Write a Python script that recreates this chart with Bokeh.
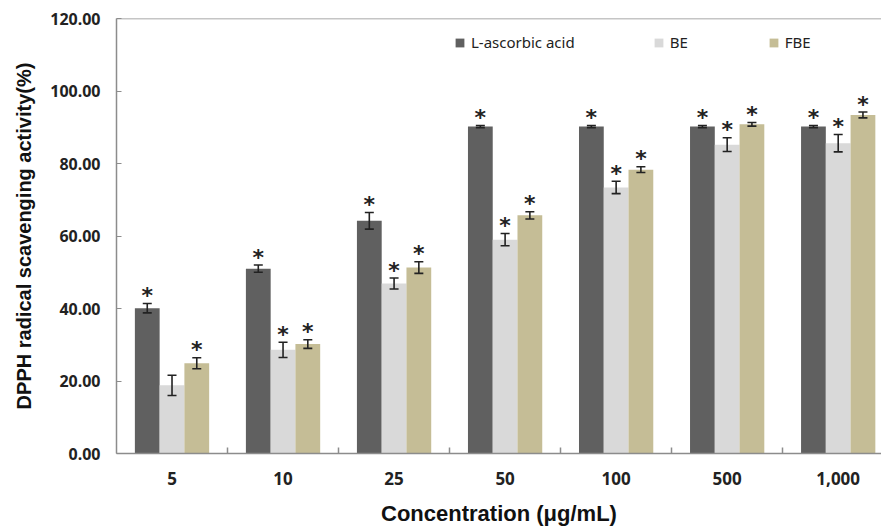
from bokeh.plotting import figure
from bokeh.models import (ColumnDataSource, FixedTicker, Range1d, Span, Whisker,
                          Legend, LegendItem)
from bokeh.core.properties import value
from bokeh.embed import file_html
from bokeh.resources import INLINE

categories = ["5", "10", "25", "50", "100", "500", "1,000"]
series_names = ["L-ascorbic acid", "BE", "FBE"]
ascorbic = [40.1, 51.0, 64.2, 90.2, 90.2, 90.2, 90.2]
ascorbic_err = [1.3, 1.0, 2.3, 0.3, 0.3, 0.3, 0.3]
be = [18.8, 28.6, 46.9, 59.0, 73.4, 85.2, 85.6]
be_err = [2.8, 2.1, 1.5, 1.7, 1.7, 1.9, 2.4]
fbe = [24.9, 30.2, 51.3, 65.7, 78.3, 90.8, 93.4]
fbe_err = [1.5, 1.2, 1.6, 1.0, 0.8, 0.5, 0.8]
be_star = [False, True, True, True, True, True, True]
y_ticks = [0, 20, 40, 60, 80, 100, 120]

colors = ["#606060", "#d9d9d9", "#c5bd96"]
offsets = [-0.223, 0.0, 0.223]
bar_w = 0.223

p = figure(width=881, height=528, output_backend="svg", toolbar_location=None,
           x_range=Range1d(0, 6.89), y_range=Range1d(0, 120),
           min_border_left=116, min_border_right=0, min_border_top=18,
           min_border_bottom=75)
p.outline_line_color = None
p.xgrid.visible = False
p.ygrid.visible = False
p.background_fill_color = "white"
p.border_fill_color = "white"

centers = [i + 0.5 for i in range(len(categories))]
all_series = [(ascorbic, ascorbic_err), (be, be_err), (fbe, fbe_err)]
items = []
for k, ((vals, errs), name) in enumerate(zip(all_series, series_names)):
    xs = [c + offsets[k] for c in centers]
    src = ColumnDataSource(dict(x=xs, top=vals,
                                lo=[v - e for v, e in zip(vals, errs)],
                                hi=[v + e for v, e in zip(vals, errs)]))
    r = p.vbar(x="x", top="top", width=bar_w, source=src, fill_color=colors[k],
               line_color=None)
    items.append(LegendItem(label=name, renderers=[r]))
    w = Whisker(base="x", lower="lo", upper="hi", source=src, line_color="#222222",
                line_width=1.6, level="overlay")
    w.upper_head.size = 9
    w.lower_head.size = 9
    w.upper_head.line_color = "#222222"
    w.lower_head.line_color = "#222222"
    w.upper_head.line_width = 1.6
    w.lower_head.line_width = 1.6
    p.add_layout(w)
    if k == 1:
        sx = [x for x, s in zip(xs, be_star) if s]
        sy = [v + e for v, e, s in zip(vals, errs, be_star) if s]
    else:
        sx = xs
        sy = [v + e for v, e in zip(vals, errs)]
    p.text(x=sx, y=sy, text=["*"] * len(sx), text_align="center",
           text_baseline="middle", y_offset=-8, text_font_size="22px",
           text_font_style="bold", text_color="#222222",
           text_font=value("DejaVu Sans"))

# top border
p.add_layout(Span(location=120, dimension="width", line_color="#8c8c8c",
                  line_width=1.5))

legend = Legend(items=items, orientation="horizontal", location=(338, 401),
                border_line_color=None, background_fill_alpha=0,
                label_text_font="Noto Sans", label_text_font_size="15px",
                label_text_color="#222222", glyph_width=11, glyph_height=11,
                spacing=78, label_standoff=6, padding=0, margin=0)
p.add_layout(legend, "center")

p.xaxis.ticker = FixedTicker(ticks=centers, minor_ticks=[1, 2, 3, 4, 5, 6])
p.xaxis.major_label_overrides = {c: lab for c, lab in zip(centers, categories)}
p.xaxis.major_tick_in = 0
p.xaxis.major_tick_out = 0
p.xaxis.minor_tick_in = 6
p.xaxis.minor_tick_out = 0
p.xaxis.minor_tick_line_color = "#8c8c8c"
p.xaxis.minor_tick_line_width = 1.5
p.xaxis.axis_line_color = "#8c8c8c"
p.xaxis.axis_line_width = 1.5
p.xaxis.major_label_standoff = 18
p.xaxis.major_label_text_font = "Noto Sans"
p.xaxis.major_label_text_font_style = "bold"
p.xaxis.major_label_text_font_size = "17px"
p.xaxis.major_label_text_color = "#222222"
p.xaxis.axis_label = "Concentration (\u03bcg/mL)"
p.xaxis.axis_label_text_font = "Liberation Sans"
p.xaxis.axis_label_text_font_style = "bold"
p.xaxis.axis_label_text_font_size = "22px"
p.xaxis.axis_label_text_color = "#111111"
p.xaxis.axis_label_standoff = 13

p.yaxis.ticker = FixedTicker(ticks=y_ticks, minor_ticks=[])
p.yaxis.major_label_overrides = {t: f"{t:.2f}" for t in y_ticks}
p.yaxis.major_tick_in = 5
p.yaxis.major_tick_out = 0
p.yaxis.major_tick_line_color = "#8c8c8c"
p.yaxis.axis_line_color = "#8c8c8c"
p.yaxis.axis_line_width = 1.5
p.yaxis.major_label_standoff = 16
p.yaxis.major_label_text_font = "Noto Sans"
p.yaxis.major_label_text_font_style = "bold"
p.yaxis.major_label_text_font_size = "16px"
p.yaxis.major_label_text_color = "#222222"
p.yaxis.axis_label = "DPPH radical scavenging activity(%)"
p.yaxis.axis_label_text_font = "Liberation Sans"
p.yaxis.axis_label_text_font_style = "bold"
p.yaxis.axis_label_text_font_size = "20px"
p.yaxis.axis_label_text_color = "#111111"
p.yaxis.axis_label_standoff = 12

open("out.html", "w").write(file_html(p, INLINE))
